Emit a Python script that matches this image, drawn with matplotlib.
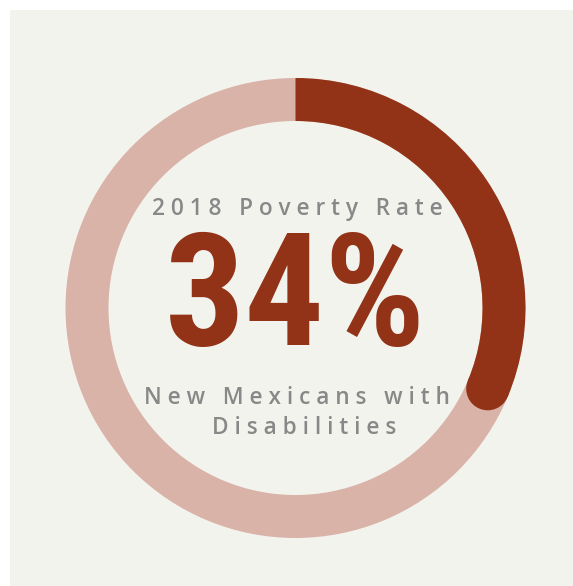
import numpy as np
import matplotlib.pyplot as plt
from matplotlib.patches import Wedge, Circle, Rectangle

# poverty rate for New Mexicans with disabilities, 2018
rate = 34
title = "2018 Poverty Rate"
subtitle = ["New Mexicans with", "Disabilities"]

dark = "#923216"
light = "#d9b3a8"
bg = "#f3f3ee"
grey = "#888888"

W, H = 573, 586
cx, cy = 295.5, H - 308
r_out, r_in = 230, 187
r_mid = (r_out + r_in) / 2
cap_r = (r_out - r_in) / 2
cap_inset = 9.6  # degrees the rounded end is pulled back


def spaced(s):
    # wide tracking: space between letters, wider gap between words
    return "   ".join(" ".join(w) for w in s.split(" "))


fig = plt.figure(figsize=(W / 100, H / 100), dpi=100)
ax = fig.add_axes([0, 0, 1, 1])
ax.set_xlim(0, W)
ax.set_ylim(0, H)
ax.axis("off")

ax.add_patch(Rectangle((10, 0), W - 10, H - 10, fc=bg, ec="none"))

# background ring
ax.add_patch(Wedge((cx, cy), r_out, 0, 360, width=r_out - r_in, fc=light, ec="none"))

# value arc, clockwise from 12 o'clock
sweep = rate / 100 * 360 - cap_inset
end = 90 - sweep
ax.add_patch(Wedge((cx, cy), r_out, end, 90, width=r_out - r_in, fc=dark, ec="none"))
ex = cx + r_mid * np.cos(np.radians(end))
ey = cy + r_mid * np.sin(np.radians(end))
ax.add_patch(Circle((ex, ey), cap_r, fc=dark, ec="none"))

small = dict(ha="center", va="center", fontsize=16.3, color=grey,
             fontweight="semibold", family=["Open Sans", "DejaVu Sans"])
ax.text(297, H - 209, spaced(title), **small)
ax.text(296, H - 302, f"{rate}%", ha="center", va="center",
        fontsize=114, color=dark, fontweight="bold", fontstretch="condensed",
        family=["Roboto Condensed", "DejaVu Sans Condensed", "DejaVu Sans"])
ax.text(297, H - 398, spaced(subtitle[0]), **small)
ax.text(304, H - 428, spaced(subtitle[1]), **small)

fig.savefig("out.png", dpi=100, facecolor="white")
